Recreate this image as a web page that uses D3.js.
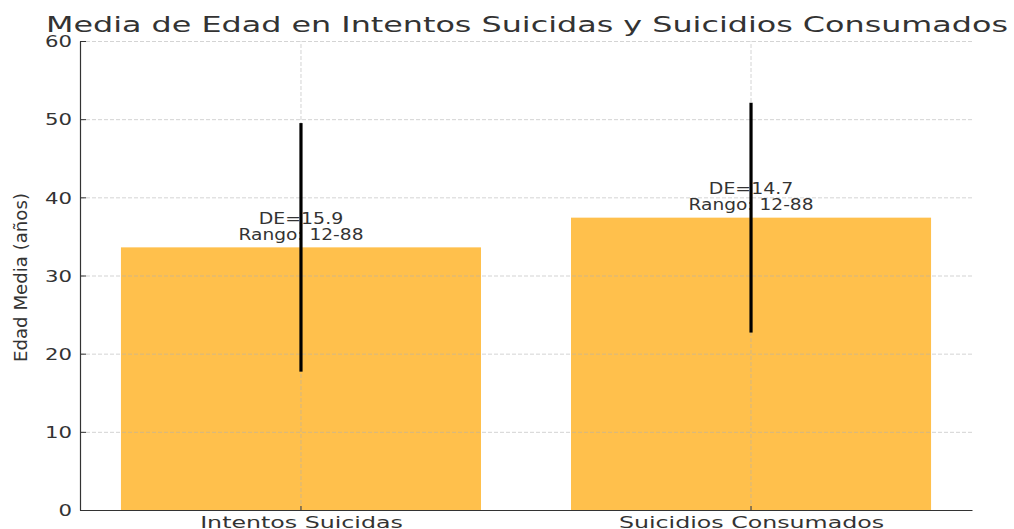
<!DOCTYPE html>
<html>
<head>
<meta charset="utf-8">
<script src="https://cdn.jsdelivr.net/npm/d3@7"></script>
<style>
  body { margin: 0; background: #fff; }
  text { font-family: "DejaVu Sans", sans-serif; fill: #333; }
</style>
</head>
<body>
<svg id="chart" width="1014" height="529"></svg>
<script>
// data
var categories = ["Intentos Suicidas", "Suicidios Consumados"];
var means = [33.6, 37.4];
var sds = [15.9, 14.7];
var ranges = ["12-88", "12-88"];
var yTicks = [0, 10, 20, 30, 40, 50, 60];

var margin = { top: 41, right: 42, bottom: 19, left: 80 },
  width = 1014 - margin.left - margin.right,
  height = 529 - margin.top - margin.bottom;

var svg = d3.select("#chart");
var g = svg.append("g")
  .attr("transform", "translate(" + margin.left + "," + margin.top + ")");

var x = d3.scaleBand().domain(categories).range([0, width])
  .paddingInner(0.2).paddingOuter(0.091);
var y = d3.scaleLinear().domain([0, 60]).range([height, 0]);

var data = categories.map(function (c, i) {
  return { cat: c, mean: means[i], sd: sds[i], range: ranges[i] };
});

// bars
g.selectAll("rect.bar")
  .data(data)
  .enter()
  .append("rect")
  .attr("class", "bar")
  .attr("x", function (d) { return x(d.cat); })
  .attr("y", function (d) { return y(d.mean); })
  .attr("width", x.bandwidth())
  .attr("height", function (d) { return height - y(d.mean); })
  .attr("fill", "#FFA500")
  .attr("fill-opacity", 0.7);

// grid (drawn on top of the bars like matplotlib)
var gridY = g.append("g")
  .call(d3.axisLeft(y).tickValues(yTicks).tickSize(-width).tickFormat(""));
var gridX = g.append("g")
  .attr("transform", "translate(0," + height + ")")
  .call(d3.axisBottom(x).tickSize(-height).tickFormat(""));
[gridY, gridX].forEach(function (gr) {
  gr.select(".domain").remove();
  gr.selectAll("line")
    .attr("stroke", "#b0b0b0")
    .attr("stroke-opacity", 0.55)
    .attr("stroke-dasharray", "4,2");
});

// annotations
var ann = g.selectAll("g.ann")
  .data(data)
  .enter()
  .append("g")
  .attr("class", "ann")
  .attr("transform", function (d) {
    return "translate(" + (x(d.cat) + x.bandwidth() / 2) + "," + y(d.mean) + ")";
  });
ann.append("text")
  .attr("transform", "translate(0,-23.5) scale(1.26,1)")
  .attr("text-anchor", "middle")
  .style("font-size", "15px")
  .text(function (d) { return "DE=" + d.sd; });
ann.append("text")
  .attr("transform", "translate(0,-7.5) scale(1.24,1)")
  .attr("text-anchor", "middle")
  .style("font-size", "15px")
  .text(function (d) { return "Rango: " + d.range; });

// error bars
g.selectAll("line.err")
  .data(data)
  .enter()
  .append("line")
  .attr("class", "err")
  .attr("x1", function (d) { return x(d.cat) + x.bandwidth() / 2; })
  .attr("x2", function (d) { return x(d.cat) + x.bandwidth() / 2; })
  .attr("y1", function (d) { return y(d.mean - d.sd); })
  .attr("y2", function (d) { return y(d.mean + d.sd); })
  .attr("stroke", "#000")
  .attr("stroke-width", 3.2);

// axes
var yAxis = g.append("g")
  .call(d3.axisLeft(y).tickValues(yTicks).tickSize(-6).tickSizeOuter(0));
yAxis.selectAll("text")
  .attr("x", null)
  .attr("dy", null)
  .attr("transform", "translate(-8,5.8) scale(1.37,1)")
  .attr("fill", null)
  .style("font-size", "15.5px");

var xAxis = g.append("g")
  .attr("transform", "translate(0," + height + ")")
  .call(d3.axisBottom(x).tickSize(-4).tickSizeOuter(0));
xAxis.selectAll("text")
  .attr("y", null)
  .attr("dy", null)
  .attr("transform", "translate(0.5,17.7) scale(1.58,1)")
  .attr("fill", null)
  .style("font-size", "15px");

[yAxis, xAxis].forEach(function (ax) {
  ax.select(".domain").attr("stroke", "#333").attr("stroke-width", 1.2);
  ax.selectAll(".tick line").attr("stroke", "#333");
});

// title and y label
svg.append("text")
  .attr("x", 527)
  .attr("y", 32)
  .attr("text-anchor", "middle")
  .attr("textLength", 962)
  .attr("lengthAdjust", "spacingAndGlyphs")
  .style("font-size", "21.5px")
  .text("Media de Edad en Intentos Suicidas y Suicidios Consumados");

svg.append("text")
  .attr("transform", "translate(27,277.5) rotate(-90)")
  .attr("text-anchor", "middle")
  .attr("textLength", 169)
  .attr("lengthAdjust", "spacingAndGlyphs")
  .style("font-size", "17.5px")
  .text("Edad Media (años)");
</script>
</body>
</html>
